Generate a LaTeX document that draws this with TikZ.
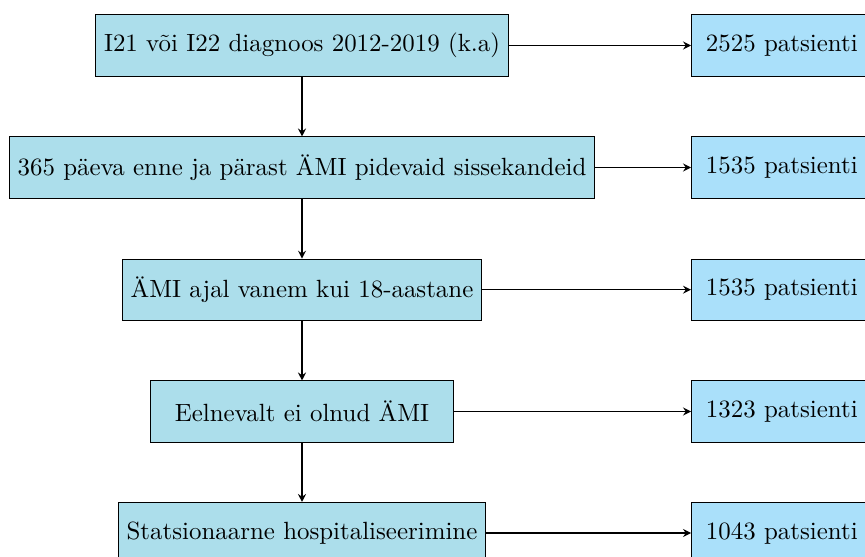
\documentclass[tikz,border=0pt]{standalone}
\usetikzlibrary{arrows.meta}
\definecolor{leftfill}{RGB}{172,222,235}
\definecolor{rightfill}{RGB}{170,224,250}
\begin{document}
\begin{tikzpicture}[x=0.4014pt,y=-0.4014pt,
  stepbox/.style={draw=black, fill=leftfill, minimum height=24.5pt, inner xsep=3.33pt},
  resbox/.style={draw=black, fill=rightfill, minimum height=24.5pt, inner xsep=5.8pt, anchor=west},
  conn/.style={semithick, -{Stealth[length=3.2pt,width=3.2pt,inset=1.1pt]}}]
\useasboundingbox (0,0) rectangle (865,557);
\clip (0,0) rectangle (865,557);
\node[stepbox] (s1) at (302,45.5) {I21 või I22 diagnoos 2012-2019 (k.a)};
\node[stepbox] (s2) at (302,167.5) {365 päeva enne ja pärast ÄMI pidevaid sissekandeid};
\node[stepbox] (s3) at (302,289.7) {ÄMI ajal vanem kui 18-aastane};
\node[stepbox, minimum width=121.5pt] (s4) at (302,411.5) {Eelnevalt ei olnud ÄMI};
\node[stepbox] (s5) at (302,533) {Statsionaarne hospitaliseerimine};
\node[resbox] (r1) at (691,45.5) {2525 patsienti};
\node[resbox] (r2) at (691,167.5) {1535 patsienti};
\node[resbox] (r3) at (691,289.7) {1535 patsienti};
\node[resbox] (r4) at (691,411.5) {1323 patsienti};
\node[resbox] (r5) at (691,533) {1043 patsienti};
\draw[conn] (s1) -- (s2);
\draw[conn] (s2) -- (s3);
\draw[conn] (s3) -- (s4);
\draw[conn] (s4) -- (s5);
\draw[conn] (s1) -- (r1);
\draw[conn] (s2) -- (r2);
\draw[conn] (s3) -- (r3);
\draw[conn] (s4) -- (r4);
\draw[conn] (s5) -- (r5);
\end{tikzpicture}
\end{document}
